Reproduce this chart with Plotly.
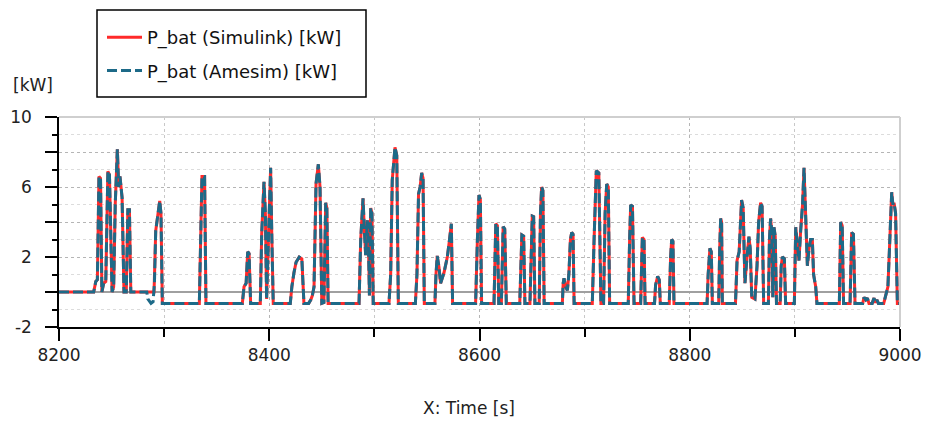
import plotly.graph_objects as go

B = -0.65  # idle baseline level

TIME_S = [
    8200, 8233, 8235, 8236.5, 8238, 8239.5, 8240.8, 8242.5, 8244.5, 8246.5, 8248, 8250.5,
    8252, 8253.5, 8255.5, 8256.8, 8258, 8260, 8261.8, 8264, 8265.5, 8267, 8268.3, 8290.4,
    8292, 8293.5, 8295.8, 8297, 8298.3, 8333.5, 8334.8, 8336, 8338.5, 8339.8,
    8374.4, 8376, 8378, 8379.5, 8380.8, 8382.3,
    8391.5, 8392.8, 8395, 8396.3, 8397.5, 8399, 8401.3, 8402.5, 8403.8,
    8420, 8421.5, 8423.5, 8425.5, 8428.5, 8431, 8433,
    8437.5, 8439.5, 8441, 8442.6, 8444.5, 8446.7, 8448.3, 8450, 8452, 8453.7, 8454.8, 8456,
    8485.4, 8487, 8489.2, 8490.5, 8491.7, 8493.3, 8494.5, 8495.3, 8496.5, 8497.7, 8498.9,
    8513.9, 8515.5, 8517, 8519.6, 8521.3, 8522.8,
    8539, 8540.5, 8542, 8543.5, 8545, 8546.3, 8547.5,
    8557.6, 8558.6, 8559.8, 8561.5, 8563, 8566.2, 8569.4, 8571.5, 8573.2, 8574.4,
    8596.3, 8598, 8599.5, 8600.8, 8602,
    8613.8, 8614.5, 8615.5, 8617, 8618.3, 8620.8, 8621.8, 8622.5, 8624, 8625.5,
    8638.3, 8639.3, 8640.3, 8642, 8643.2,
    8648, 8649, 8650.2, 8651.5, 8652.7, 8656.8, 8658, 8659.1, 8660.3, 8661.5,
    8678.8, 8679.6, 8680.4, 8682, 8683.6, 8685, 8686.5, 8687.7, 8689, 8690,
    8707.3, 8709, 8711.1, 8713.5, 8714.5, 8715.5, 8718, 8719.5, 8721, 8722.5, 8723.8,
    8741.5, 8742.8, 8743.8, 8745.5, 8747,
    8753.3, 8754.3, 8754.9, 8756.5, 8757.5,
    8766.5, 8767.5, 8769.5, 8771, 8772,
    8780.5, 8781.8, 8782.8, 8784, 8785,
    8816.5, 8817.5, 8819.2, 8820.5, 8821.5, 8827.5, 8828.5, 8829.4, 8830.3, 8831,
    8843.5, 8845, 8847, 8848.2, 8849.3, 8850.8, 8852.5, 8854.5, 8856.3, 8857.5, 8859, 8862,
    8864, 8865.5, 8867.4, 8868.8, 8870.3,
    8874.8, 8875.8, 8876.9, 8878, 8879, 8880.1, 8881.3, 8882.5,
    8886, 8887, 8888.1, 8890, 8891.2,
    8899.5, 8900.8, 8902.5, 8903.9, 8905.5, 8907.3, 8908.7, 8910, 8911.9, 8913.5, 8915, 8916.6,
    8917.8, 8919.8, 8921,
    8942.3, 8943, 8943.6, 8945, 8946.3, 8952.5, 8953.2, 8954, 8955.7, 8957.2,
    8964.5, 8965.8, 8967.5, 8969, 8970.5, 8973.5, 8975.3, 8976.5, 8978, 8979.5,
    8984.5, 8986.4, 8988.5, 8990, 8992.1, 8993.2, 8994.3, 8995.8, 8997.5, 9000,
]

P_SIMULINK_KW = [
    0, 0, 0.6, 0.7, 6.6, 6.5, 0, 0.5, 0.6, 6.9, 6.7, 0,
    0.3, 5.0, 8.15, 6.0, 6.6, 5.4, 0, 0, 4.7, 4.7, 0, 0,
    3.5, 4.2, 5.2, 4.5, B, B, 3.0, 6.6, 6.6, B,
    B, 0.3, 0.5, 2.3, 2.2, B,
    B, 3.3, 6.3, 4.5, -0.4, 3.0, 7.1, 3.0, B,
    B, 0.3, 1.1, 1.7, 2.0, 1.9, B,
    B, -0.45, -0.2, 0.3, 6.2, 7.3, 6.0, B, -0.6, 5.1, 4.8, B,
    B, 3.0, 5.35, 3.5, 2.1, 4.1, 2.3, -0.2, 4.8, 4.5, B,
    B, 1.0, 6.4, 8.27, 7.8, B,
    B, 1.0, 5.6, 6.0, 6.8, 6.5, B,
    B, 1.0, 2.06, 1.4, 0.5, 1.1, 2.0, 3.0, 3.9, B,
    B, 3.0, 5.54, 5.3, B,
    B, 2.0, 3.9, 3.8, B, B, 3.0, 3.73, 3.6, B,
    B, 2.0, 3.26, 3.2, B,
    B, 2.5, 4.34, 4.3, B, B, 4.5, 6.0, 5.8, B,
    B, 0.5, 0.78, 0.3, 0.1, 1.0, 3.0, 3.4, 3.3, B,
    B, 3.0, 6.93, 6.8, 2.0, B, B, 4.5, 6.17, 6.0, B,
    B, 3.0, 4.97, 4.9, B,
    B, 2.0, 3.12, 3.0, B,
    B, 0.4, 0.9, 0.7, B,
    B, 2.0, 3.0, 2.9, B,
    B, 1.0, 2.5, 2.3, B, B, 2.5, 4.2, 4.0, B,
    B, 1.8, 2.3, 4.0, 5.26, 4.8, 0.5, 2.0, 3.16, 2.5, -0.3, -0.4,
    1.5, 4.0, 5.1, 4.9, B,
    B, 3.0, 4.2, 3.5, -0.3, 3.7, 3.2, B,
    B, 1.5, 2.0, 1.9, B,
    B, 3.7, 2.5, 1.8, 3.5, 5.0, 7.1, 5.0, 1.5, 2.5, 3.0, 3.0,
    1.0, 0.3, B,
    B, 2.0, 4.0, 3.8, B, B, 2.0, 3.4, 3.3, B,
    B, -0.3, -0.45, -0.35, B, B, -0.35, -0.6, -0.45, B,
    B, -0.2, 0.3, 2.5, 5.7, 5.0, 5.1, 4.5, B, B,
]

# Amesim follows Simulink except for a short dip just before 8290 s
AMESIM_HOOK_T = [8283.5, 8284.5, 8286, 8287.5, 8289.5, 8290.8]
AMESIM_HOOK_P = [0, -0.4, -0.55, -0.65, -0.55, 0.5]

pairs = [(t, p) for t, p in zip(TIME_S, P_SIMULINK_KW) if not (8283 < t < 8291)]
pairs += list(zip(AMESIM_HOOK_T, AMESIM_HOOK_P))
pairs.sort()
TIME_AMESIM = [p[0] for p in pairs]
P_AMESIM_KW = [p[1] for p in pairs]

X_TICKS = [8200, 8400, 8600, 8800, 9000]
X_MINOR = [8300, 8500, 8700, 8900]
Y_TICKS = [-2, 0, 2, 4, 6, 8, 10]
Y_TICKTEXT = ["-2", "", "2", "", "6", "", "10"]
Y_MINOR = [-1, 1, 3, 5, 7, 9]

FONT = "DejaVu Sans"

# plot area in pixels: x 59..900, y 117..327
PX_L, PX_R, PX_T, PX_B = 59, 900, 117, 327


def px_x(px):
    return (px - PX_L) / (PX_R - PX_L)


def px_y(py):
    return (PX_B - py) / (PX_B - PX_T)


fig = go.Figure()
fig.add_trace(go.Scatter(
    x=TIME_S, y=P_SIMULINK_KW, mode="lines", name="P_bat (Simulink) [kW]",
    line=dict(color="#ff2a2a", width=3), legendgroup="a"))
fig.add_trace(go.Scatter(
    x=TIME_AMESIM, y=P_AMESIM_KW, mode="lines", name="P_bat (Amesim) [kW]",
    line=dict(color="#1d6a88", width=3, dash="10px,4px"), legendgroup="b"))

fig.update_layout(
    width=925, height=424,
    margin=dict(l=PX_L, r=925 - PX_R, t=PX_T, b=424 - PX_B, autoexpand=False),
    paper_bgcolor="white", plot_bgcolor="white",
    font=dict(family=FONT, size=17, color="#222"),
    showlegend=True,
    legend=dict(
        x=px_x(102), y=px_y(19), xanchor="left", yanchor="top",
        borderwidth=0, bgcolor="rgba(0,0,0,0)",
        font=dict(family=FONT, size=18, color="#111"),
        tracegroupgap=7, itemwidth=35,
    ),
    xaxis=dict(
        range=[8200, 9000], tickmode="array", tickvals=X_TICKS, automargin=False,
        ticks="outside", ticklen=12, tickcolor="black", tickwidth=1.5,
        showline=True, linecolor="black", linewidth=1.5,
        showgrid=True, gridcolor="#b5b5b5", griddash="dot", gridwidth=1,
        zeroline=False, tickfont=dict(size=17, color="#222"),
        minor=dict(tickvals=X_MINOR, ticks="outside", ticklen=8, tickcolor="black",
                   showgrid=True, gridcolor="#c8c8c8", griddash="dot"),
    ),
    yaxis=dict(
        range=[-2, 10], tickmode="array", tickvals=Y_TICKS, ticktext=Y_TICKTEXT,
        automargin=False,
        ticks="outside", ticklen=12, tickcolor="black", tickwidth=1.5,
        showline=True, linecolor="black", linewidth=1.5,
        showgrid=True, gridcolor="#b5b5b5", griddash="dot", gridwidth=1,
        zeroline=True, zerolinecolor="#a0a0a0", zerolinewidth=1.5,
        tickfont=dict(size=17, color="#222"), ticklabelstandoff=10,
        minor=dict(tickvals=Y_MINOR, ticks="outside", ticklen=5, tickcolor="black",
                   showgrid=True, gridcolor="#dcdcdc", griddash="dot"),
    ),
    shapes=[
        dict(type="line", xref="paper", yref="paper", x0=0, x1=1, y0=1, y1=1,
             line=dict(color="#cfcfcf", width=2)),
        dict(type="line", xref="paper", yref="paper", x0=1, x1=1, y0=0, y1=1,
             line=dict(color="#cfcfcf", width=2)),
        # legend frame
        dict(type="rect", xref="paper", yref="paper",
             x0=px_x(97), x1=px_x(366), y0=px_y(97), y1=px_y(10),
             line=dict(color="black", width=1.5), fillcolor="rgba(0,0,0,0)",
             layer="above"),
    ],
    annotations=[
        dict(text="[kW]", xref="paper", yref="paper", x=px_x(33), y=px_y(85),
             xanchor="center", yanchor="middle", showarrow=False,
             font=dict(family=FONT, size=17, color="#222")),
        dict(text="X: Time [s]", xref="paper", yref="paper", x=px_x(469), y=px_y(408),
             xanchor="center", yanchor="middle", showarrow=False,
             font=dict(family=FONT, size=17, color="#222")),
    ],
)

fig.write_html("out.html")
